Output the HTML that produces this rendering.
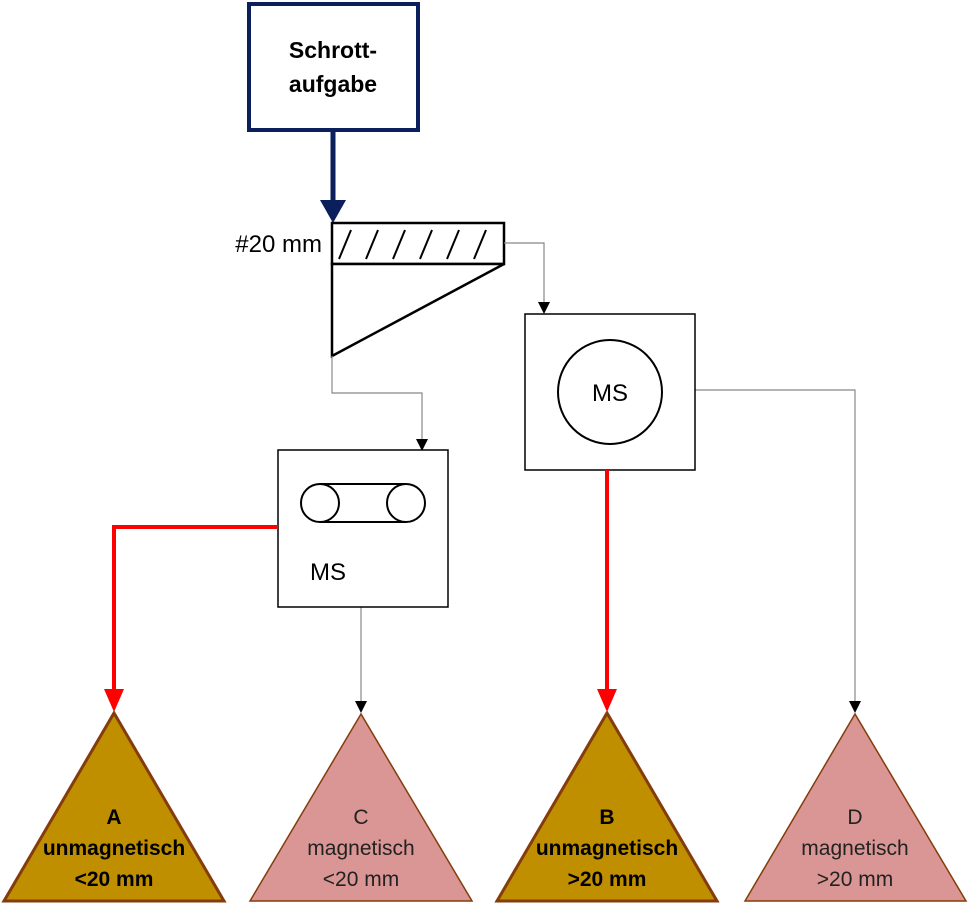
<!DOCTYPE html>
<html><head><meta charset="utf-8"><style>
html,body{margin:0;padding:0;background:#fff}
svg{display:block}
text{font-family:"Liberation Sans",sans-serif}
</style></head><body>
<svg width="969" height="905" viewBox="0 0 969 905" xmlns="http://www.w3.org/2000/svg">
<rect x="249" y="4" width="169" height="126" fill="#fff" stroke="#0a1f5c" stroke-width="4"/>
<text x="333" y="58" font-size="23" font-weight="bold" text-anchor="middle">Schrott-</text>
<text x="333" y="92" font-size="23" font-weight="bold" text-anchor="middle">aufgabe</text>
<line x1="333" y1="130" x2="333" y2="204" stroke="#0a1f5c" stroke-width="5"/>
<polygon points="320,200 346,200 333,223" fill="#0a1f5c"/>
<text x="322" y="252" font-size="24" text-anchor="end">#20 mm</text>
<rect x="332" y="223" width="172" height="41" fill="#fff" stroke="#000" stroke-width="2.5"/>
<g stroke="#000" stroke-width="2">
<line x1="339" y1="259" x2="351" y2="230"/>
<line x1="366" y1="259" x2="378" y2="230"/>
<line x1="393" y1="259" x2="405" y2="230"/>
<line x1="420" y1="259" x2="432" y2="230"/>
<line x1="447" y1="259" x2="459" y2="230"/>
<line x1="474" y1="259" x2="486" y2="230"/>
</g>
<polygon points="332,264 504,264 332,356" fill="#fff" stroke="#000" stroke-width="2.5"/>
<g stroke="#888" stroke-width="1.2" fill="none">
<polyline points="504,243 544,243 544,303"/>
<polyline points="332,356 332,393 422,393 422,440"/>
<line x1="361" y1="607" x2="361" y2="702"/>
<polyline points="695,390 855,390 855,702"/>
</g>
<polygon points="538,302 550,302 544,314" fill="#000"/>
<polygon points="416,439 428,439 422,451" fill="#000"/>
<polygon points="355,701 367,701 361,713" fill="#000"/>
<polygon points="849,701 861,701 855,713" fill="#000"/>
<rect x="525" y="314" width="170" height="156" fill="#fff" stroke="#000" stroke-width="1.5"/>
<circle cx="610" cy="392" r="52" fill="#fff" stroke="#000" stroke-width="2"/>
<text x="610" y="401" font-size="24" text-anchor="middle">MS</text>
<rect x="278" y="450" width="170" height="157" fill="#fff" stroke="#000" stroke-width="1.5"/>
<line x1="320" y1="484" x2="406" y2="484" stroke="#000" stroke-width="2"/>
<line x1="320" y1="522" x2="406" y2="522" stroke="#000" stroke-width="2"/>
<circle cx="320" cy="503" r="19" fill="#fff" stroke="#000" stroke-width="2"/>
<circle cx="406" cy="503" r="19" fill="#fff" stroke="#000" stroke-width="2"/>
<text x="328" y="580" font-size="24" text-anchor="middle">MS</text>
<polyline points="278,527 114,527 114,692" fill="none" stroke="#ff0000" stroke-width="4"/>
<polygon points="104,689 124,689 114,712" fill="#ff0000"/>
<line x1="607" y1="470" x2="607" y2="692" stroke="#ff0000" stroke-width="4"/>
<polygon points="597,689 617,689 607,712" fill="#ff0000"/>
<polygon points="114,713 4,901 224,901" fill="#bf8f00" stroke="#843c0c" stroke-width="3"/>
<polygon points="361,714 250,901 472,901" fill="#d99694" stroke="#843c0c" stroke-width="1.5"/>
<polygon points="607,713 497,901 717,901" fill="#bf8f00" stroke="#843c0c" stroke-width="3"/>
<polygon points="855,714 745,901 966,901" fill="#d99694" stroke="#843c0c" stroke-width="1.5"/>
<g font-size="21" text-anchor="middle">
<text x="114" y="824" font-weight="bold">A</text>
<text x="114" y="855" font-weight="bold">unmagnetisch</text>
<text x="114" y="886" font-weight="bold">&lt;20 mm</text>
<text x="361" y="824" fill="#222">C</text>
<text x="361" y="855" fill="#222">magnetisch</text>
<text x="361" y="886" fill="#222">&lt;20 mm</text>
<text x="607" y="824" font-weight="bold">B</text>
<text x="607" y="855" font-weight="bold">unmagnetisch</text>
<text x="607" y="886" font-weight="bold">&gt;20 mm</text>
<text x="855" y="824" fill="#222">D</text>
<text x="855" y="855" fill="#222">magnetisch</text>
<text x="855" y="886" fill="#222">&gt;20 mm</text>
</g>
</svg>
</body></html>
